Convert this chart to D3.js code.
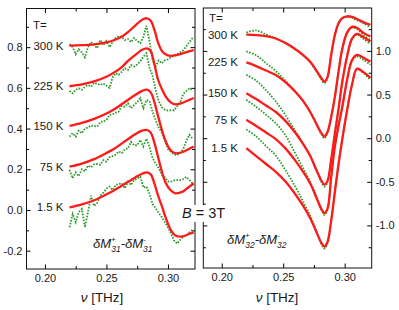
<!DOCTYPE html>
<html>
<head>
<meta charset="utf-8">
<script src="https://cdn.jsdelivr.net/npm/d3@7"></script>
<style>
  body { margin: 0; background: #fff; }
  svg text { font-family: "Liberation Sans", Arial, sans-serif; fill: #1a1a1a; }
</style>
</head>
<body>
<script>
// temperatures, top curve first
const temps = ["300 K", "225 K", "150 K", "75 K", "1.5 K"];

// left panel (dM31+ - dM31-): fitted curves
const nuFitL = [0.220, 0.230, 0.240, 0.250, 0.256, 0.262, 0.268, 0.274, 0.279, 0.283,
                0.286, 0.289, 0.292, 0.295, 0.298, 0.302, 0.306, 0.312, 0.317, 0.321];
const fitL300 = [0.808, 0.810, 0.814, 0.823, 0.834, 0.850, 0.876, 0.910, 0.935, 0.942,
                 0.930, 0.885, 0.822, 0.782, 0.765, 0.757, 0.760, 0.770, 0.779, 0.785];
const fitL225 = [0.608, 0.617, 0.632, 0.655, 0.675, 0.700, 0.735, 0.765, 0.787, 0.794,
                 0.780, 0.715, 0.640, 0.595, 0.560, 0.530, 0.519, 0.527, 0.540, 0.550];
const fitL150 = [0.413, 0.428, 0.448, 0.474, 0.494, 0.518, 0.543, 0.567, 0.585, 0.591,
                 0.578, 0.530, 0.460, 0.395, 0.340, 0.295, 0.279, 0.285, 0.300, 0.312];
const fitL75  = [0.213, 0.228, 0.250, 0.280, 0.300, 0.325, 0.350, 0.375, 0.390, 0.393,
                 0.380, 0.330, 0.260, 0.190, 0.135, 0.098, 0.082, 0.090, 0.113, 0.130];
const fitL1p5 = [0.013, 0.028, 0.048, 0.077, 0.096, 0.118, 0.140, 0.162, 0.178, 0.185,
                 0.175, 0.130, 0.070, 0.020, -0.035, -0.095, -0.125, -0.130, -0.118, -0.110];

// left panel: measured points (every 0.0025 THz)
const nuDataL = [0.2200, 0.2225, 0.2250, 0.2275, 0.2300, 0.2325, 0.2350, 0.2375, 0.2400, 0.2425,
                 0.2450, 0.2475, 0.2500, 0.2525, 0.2550, 0.2575, 0.2600, 0.2625, 0.2650, 0.2675,
                 0.2700, 0.2725, 0.2750, 0.2775, 0.2800, 0.2825, 0.2850, 0.2875, 0.2900, 0.2925,
                 0.2950, 0.2975, 0.3000, 0.3025, 0.3050, 0.3075, 0.3100, 0.3125, 0.3150, 0.3175, 0.3200];
const dataL300 = [0.815, 0.800, 0.765, 0.790, 0.775, 0.750, 0.800, 0.825, 0.810, 0.795,
                  0.835, 0.810, 0.830, 0.800, 0.825, 0.845, 0.855, 0.850, 0.835, 0.840,
                  0.825, 0.845, 0.830, 0.820, 0.850, 0.905, 0.830, 0.740, 0.705, 0.735,
                  0.720, 0.735, 0.740, 0.750, 0.755, 0.765, 0.775, 0.785, 0.805, 0.825, 0.845];
const dataL225 = [0.585, 0.573, 0.590, 0.598, 0.590, 0.605, 0.614, 0.606, 0.625, 0.620,
                  0.614, 0.622, 0.610, 0.600, 0.652, 0.672, 0.664, 0.680, 0.696, 0.688,
                  0.712, 0.705, 0.715, 0.730, 0.753, 0.770, 0.700, 0.660, 0.590, 0.535,
                  0.505, 0.493, 0.488, 0.490, 0.490, 0.510, 0.530, 0.570, 0.585, 0.598, 0.590];
const dataL150 = [0.360, 0.377, 0.360, 0.390, 0.377, 0.400, 0.405, 0.415, 0.412, 0.410,
                  0.432, 0.435, 0.442, 0.467, 0.470, 0.478, 0.483, 0.512, 0.507, 0.524,
                  0.500, 0.516, 0.530, 0.549, 0.500, 0.540, 0.535, 0.483, 0.440, 0.405,
                  0.380, 0.340, 0.300, 0.285, 0.272, 0.270, 0.280, 0.300, 0.340, 0.370, 0.350];
const dataL75  = [0.197, 0.156, 0.185, 0.166, 0.200, 0.190, 0.218, 0.210, 0.225, 0.226,
                  0.222, 0.245, 0.238, 0.260, 0.265, 0.272, 0.287, 0.280, 0.298, 0.303,
                  0.335, 0.318, 0.318, 0.344, 0.312, 0.350, 0.310, 0.255, 0.228, 0.205,
                  0.172, 0.160, 0.140, 0.139, 0.145, 0.147, 0.147, 0.152, 0.162, 0.148, 0.130];
const dataL1p5 = [-0.085, -0.020, -0.060, -0.010, 0.005, -0.085, -0.010, 0.070, 0.020, 0.035,
                  0.070, 0.085, 0.105, 0.115, 0.098, 0.123, 0.128, 0.131, 0.107, 0.139,
                  0.123, 0.147, 0.155, 0.164, 0.110, 0.115, 0.080, 0.030, 0.008, -0.015,
                  -0.035, -0.060, -0.085, -0.115, -0.150, -0.165, -0.147, -0.131, -0.125, -0.110, -0.098];

// right panel (dM32+ - dM32-): fit and data share one frequency grid
const nuR = [0.220, 0.228, 0.236, 0.244, 0.252, 0.260, 0.266, 0.272, 0.277, 0.281, 0.2835,
             0.286, 0.289, 0.292, 0.295, 0.298, 0.302, 0.306, 0.310, 0.315, 0.321];
const fitR300 = [1.187, 1.182, 1.170, 1.142, 1.090, 1.020, 0.955, 0.875, 0.775, 0.690, 0.648,
                 0.700, 0.950, 1.180, 1.315, 1.375, 1.397, 1.390, 1.365, 1.330, 1.300];
const fitR225 = [0.868, 0.826, 0.775, 0.724, 0.640, 0.530, 0.430, 0.300, 0.165, 0.060, 0.020,
                 0.070, 0.240, 0.470, 0.760, 1.020, 1.210, 1.275, 1.265, 1.210, 1.166];
const fitR150 = [0.516, 0.448, 0.374, 0.300, 0.195, 0.059, -0.062, -0.204, -0.365, -0.485, -0.532,
                 -0.490, -0.250, 0.050, 0.330, 0.640, 0.940, 1.140, 1.195, 1.160, 1.108];
const fitR75  = [0.210, 0.140, 0.065, -0.010, -0.120, -0.260, -0.380, -0.520, -0.680, -0.810, -0.858,
                 -0.810, -0.450, -0.100, 0.140, 0.350, 0.670, 0.895, 0.955, 0.925, 0.875];
const fitR1p5 = [-0.115, -0.205, -0.296, -0.386, -0.500, -0.645, -0.770, -0.917, -1.075, -1.200, -1.242,
                 -1.190, -0.950, -0.620, -0.300, -0.020, 0.320, 0.615, 0.795, 0.760, 0.690];
const dataR300 = [1.210, 1.235, 1.190, 1.142, 1.085, 1.015, 0.955, 0.870, 0.765, 0.675, 0.630,
                  0.690, 0.955, 1.190, 1.325, 1.375, 1.390, 1.380, 1.350, 1.320, 1.270];
const dataR225 = [0.994, 0.950, 0.860, 0.770, 0.655, 0.535, 0.430, 0.295, 0.155, 0.045, 0.000,
                  0.060, 0.240, 0.480, 0.770, 1.020, 1.210, 1.265, 1.250, 1.190, 1.120];
const dataR150 = [0.726, 0.660, 0.550, 0.420, 0.260, 0.080, -0.055, -0.200, -0.365, -0.500, -0.555,
                  -0.500, -0.250, 0.060, 0.340, 0.650, 0.940, 1.130, 1.185, 1.140, 1.080];
const dataR75  = [0.440, 0.360, 0.270, 0.170, 0.030, -0.180, -0.340, -0.500, -0.670, -0.820, -0.880,
                  -0.820, -0.450, -0.090, 0.150, 0.360, 0.670, 0.885, 0.935, 0.900, 0.840];
const dataR1p5 = [0.100, 0.020, -0.090, -0.200, -0.370, -0.560, -0.720, -0.890, -1.060, -1.210, -1.265,
                  -1.210, -0.950, -0.610, -0.290, -0.010, 0.330, 0.615, 0.785, 0.750, 0.670];

// ticks
const xMajor = [0.20, 0.25, 0.30];
const xMinor = [0.225, 0.275];
const yMajorL = [-0.2, 0.0, 0.2, 0.4, 0.6, 0.8];
const yMinorL = [-0.1, 0.1, 0.3, 0.5, 0.7, 0.9];
const yMajorR = [-1.0, -0.5, 0.0, 0.5, 1.0];
const yMinorR = [-1.25, -0.75, -0.25, 0.25, 0.75, 1.25];

const fitL = [fitL300, fitL225, fitL150, fitL75, fitL1p5];
const dataL = [dataL300, dataL225, dataL150, dataL75, dataL1p5];
const fitR = [fitR300, fitR225, fitR150, fitR75, fitR1p5];
const dataR = [dataR300, dataR225, dataR150, dataR75, dataR1p5];

const RED = "#ff1a1a", GREEN = "#2e9a2e";

const svg = d3.select("body").append("svg")
  .attr("width", 399)
  .attr("height", 310);

const xL = d3.scaleLinear().domain([0.185, 0.322]).range([26.5, 195]);
const yL = d3.scaleLinear().domain([-0.29, 0.99]).range([269, 8.5]);
const xR = d3.scaleLinear().domain([0.185, 0.322]).range([203.3, 371.7]);
const yR = d3.scaleLinear().domain([-1.488, 1.492]).range([268, 8]);

// frame with inward ticks on all four sides
function frame(x, y, yMajor, yMinor, side) {
  const [x0, x1] = x.range();
  const [y1, y0] = y.range();
  const g = svg.append("g");
  const put = (axis, tx, ty) => g.append("g")
    .attr("transform", `translate(${tx},${ty})`)
    .call(axis)
    .call((s) => s.select(".domain").remove())
    .attr("font-size", 11)
    .attr("font-family", null);

  const f1 = (d) => d.toFixed(1);
  const f2 = (d) => d.toFixed(2);
  const none = () => "";

  put(d3.axisBottom(x).tickValues(xMajor).tickSize(-4.5).tickPadding(5).tickFormat(f2), 0, y1);
  put(d3.axisBottom(x).tickValues(xMinor).tickSize(-3).tickFormat(none), 0, y1);
  put(d3.axisTop(x).tickValues(xMajor).tickSize(-4.5).tickFormat(none), 0, y0);
  put(d3.axisTop(x).tickValues(xMinor).tickSize(-3).tickFormat(none), 0, y0);

  put(d3.axisLeft(y).tickValues(yMajor).tickSize(-4).tickPadding(4)
    .tickFormat(side === "left" ? f1 : none), x0, 0);
  put(d3.axisLeft(y).tickValues(yMinor).tickSize(-2.5).tickFormat(none), x0, 0);
  put(d3.axisRight(y).tickValues(yMajor).tickSize(-4.5).tickPadding(4)
    .tickFormat(side === "right" ? f1 : none), x1, 0);
  put(d3.axisRight(y).tickValues(yMinor).tickSize(-3).tickFormat(none), x1, 0);

  g.append("rect")
    .attr("x", x0).attr("y", y0)
    .attr("width", x1 - x0).attr("height", y1 - y0)
    .attr("fill", "none").attr("stroke", "#111").attr("stroke-width", 1);
}

function curves(x, y, nuFit, fits, nuData, datas, dataCurve) {
  const g = svg.append("g");
  const lineData = (arr) => d3.line()
    .x((d, i) => x(nuData[i]))
    .y((d) => y(d))
    .curve(dataCurve)(arr);
  const lineFit = (arr) => d3.line()
    .x((d, i) => x(nuFit[i]))
    .y((d) => y(d))
    .curve(d3.curveCatmullRom.alpha(0.5))(arr);

  g.selectAll("path.data")
    .data(datas)
    .enter()
    .append("path")
    .attr("class", "data")
    .attr("d", lineData)
    .attr("fill", "none")
    .attr("stroke", GREEN)
    .attr("stroke-width", 1.8)
    .attr("stroke-dasharray", "1.6,1.4");

  g.selectAll("path.fit")
    .data(fits)
    .enter()
    .append("path")
    .attr("class", "fit")
    .attr("d", lineFit)
    .attr("fill", "none")
    .attr("stroke", RED)
    .attr("stroke-width", 2.3);
}

frame(xL, yL, yMajorL, yMinorL, "left");
frame(xR, yR, yMajorR, yMinorR, "right");

curves(xL, yL, nuFitL, fitL, nuDataL, dataL, d3.curveLinear);
curves(xR, yR, nuR, fitR, nuR, dataR, d3.curveCatmullRom.alpha(0.5));

// temperature labels, placed at the start of each fit
svg.selectAll("text.tl")
  .data(temps)
  .enter()
  .append("text")
  .attr("class", "tl")
  .attr("x", 63.5)
  .attr("y", (d, i) => yL(fitL[i][0]) + 4)
  .attr("text-anchor", "end")
  .attr("font-size", 11.5)
  .text((d) => d);
svg.append("text").attr("x", 33).attr("y", 29).attr("font-size", 11.5).text("T=");

svg.selectAll("text.tr")
  .data(temps)
  .enter()
  .append("text")
  .attr("class", "tr")
  .attr("x", 238)
  .attr("y", (d, i) => yR(fitR[i][0]) + 4)
  .attr("text-anchor", "end")
  .attr("font-size", 11.5)
  .text((d) => d);
svg.append("text").attr("x", 209).attr("y", 22).attr("font-size", 11.5).text("T=");

// x axis titles
function nuTitle(cx) {
  const t = svg.append("text")
    .attr("x", cx).attr("y", 302)
    .attr("text-anchor", "middle")
    .attr("font-size", 13.5);
  t.append("tspan").attr("font-style", "italic").text("ν");
  t.append("tspan").text(" [THz]");
}
nuTitle(102);
nuTitle(277);

// dM labels
function dmLabel(x, y, sub) {
  const t = svg.append("text").attr("x", x).attr("y", y)
    .attr("font-size", 13).attr("font-style", "italic");
  t.append("tspan").text("δM");
  t.append("tspan").attr("font-size", 8).attr("dy", -6).text("+");
  t.append("tspan").attr("font-size", 8.5).attr("dx", -4.5).attr("dy", 10).text(sub);
  t.append("tspan").attr("dy", -4).text("-δM");
  t.append("tspan").attr("font-size", 8).attr("dy", -6).text("-");
  t.append("tspan").attr("font-size", 8.5).attr("dx", -2.7).attr("dy", 10).text(sub);
}
dmLabel(93, 248, "31");
dmLabel(227, 244, "32");

// field label over the gap between the panels
svg.append("rect")
  .attr("x", 180).attr("y", 205)
  .attr("width", 47).attr("height", 17)
  .attr("fill", "#fff");
const b = svg.append("text").attr("x", 182).attr("y", 218).attr("font-size", 14.5);
b.append("tspan").attr("font-style", "italic").text("B");
b.append("tspan").text(" = 3T");
</script>
</body>
</html>
